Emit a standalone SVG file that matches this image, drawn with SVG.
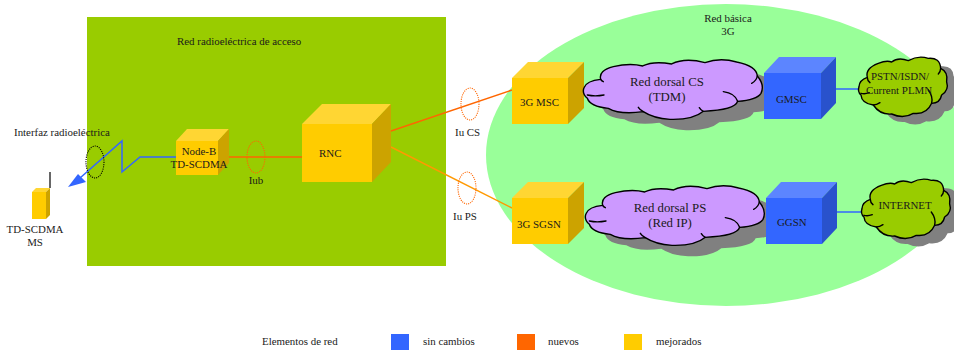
<svg xmlns="http://www.w3.org/2000/svg" xmlns:xlink="http://www.w3.org/1999/xlink" width="954" height="350" viewBox="0 0 954 350">
<style>
text{font-family:"Liberation Serif","Times New Roman",serif;font-size:10.9px;fill:#1a1a1a}
.m{text-anchor:middle}
.big{font-size:12.8px}
.y .f{fill:#ffcc00}.y .t{fill:#ffd633}.y .s{fill:#cca300}
.b .f{fill:#3366ff}.b .t{fill:#5c85ff}.b .s{fill:#2952cc}
.shadow{fill:#808080}
.cl{stroke:#000;stroke-width:4.2;stroke-linejoin:round}
.inner{fill:none;stroke:#000;stroke-width:4.2;stroke-linecap:round}
.purple{fill:#cc99ff}.olive{fill:#99cc00}
.wire{fill:none;stroke-width:1.5}
.dot{fill:none;stroke-width:1.1;stroke-dasharray:1.1 1.1}
</style>
<defs>
<path id="bigc" d="M42 143 Q50 122 92 118 Q85 92 130 80 Q180 68 218 78 Q250 62 305 72 Q345 52 405 68 Q450 52 500 66 Q560 78 562 108 Q585 135 573 160 Q560 180 503 184 Q495 210 400 214 Q370 240 300 238 Q250 235 220 215 Q150 225 115 205 Q60 200 52 175 Q35 160 42 143Z"/>
<path id="bigi" d="M92 118 Q94 122 100 125 M52 165 Q75 170 102 165 M460 155 Q495 160 503 184 M562 108 Q560 122 545 130 M220 215 Q210 210 205 202 M400 214 Q392 210 388 203"/>
<path id="smc" d="M867 140 Q868 120 892 112 Q885 85 925 70 Q950 60 965 66 Q985 50 1015 62 Q1045 45 1075 55 Q1110 52 1112 85 Q1135 95 1130 125 Q1138 150 1115 165 Q1110 190 1085 190 Q1070 225 1030 220 Q1000 238 965 222 Q930 225 910 195 Q875 190 873 165 Q862 155 867 140Z"/>
<path id="smi" d="M892 112 Q892 122 900 128 M873 160 Q885 163 898 158 M1112 85 Q1112 95 1105 102 M1085 190 Q1090 170 1075 150 M910 195 Q920 195 930 188"/>
</defs>
<rect id="red-acceso" x="87" y="17" width="359" height="249" fill="#99cc00"/>
<ellipse id="red-basica" cx="726" cy="155" rx="240" ry="151" fill="#99ff99"/>
<g id="connectors">
<path class="wire" stroke="#ff6600" d="M229 157H302"/>
<path class="wire" stroke="#ff6600" d="M391 131L512 90"/>
<path class="wire" stroke="#ff9900" d="M391 147L512 208"/>
<path class="wire" stroke="#3366ff" d="M836 89H862"/>
<path class="wire" stroke="#3366ff" d="M837 212H864"/>
<path class="wire" stroke="#3366ff" d="M176 157H140L122 172V141L80 178"/>
<path fill="#3366ff" d="M68 187L78 174L86 182Z"/>
<ellipse class="dot" cx="95" cy="162" rx="9" ry="16" stroke="#000"/>
<ellipse class="dot" cx="256" cy="157" rx="9" ry="16" stroke="#ff6600"/>
<ellipse class="dot" cx="470" cy="104" rx="9" ry="16" stroke="#ff6600"/>
<ellipse class="dot" cx="467" cy="188" rx="9" ry="16" stroke="#ff6600"/>
</g>
<g id="label-red-acceso"><text x="177" y="45">Red radioeléctrica de acceso</text></g>
<g id="label-red-basica"><text class="m" x="728" y="22">Red básica</text><text class="m" x="728" y="35">3G</text></g>
<g id="label-interfaz"><text x="14" y="136">Interfaz radioeléctrica</text></g>
<g id="label-iub"><text class="m" x="256" y="184">Iub</text></g>
<g id="label-iucs"><text x="455" y="136">Iu CS</text></g>
<g id="label-iups"><text x="453" y="220">Iu PS</text></g>
<g id="ms" class="y">
<path d="M50 172V188" stroke="#000" stroke-width="1.2"/>
<path class="t" d="M32 192L36 188H50L46 192Z"/><path class="s" d="M46 192L50 188V215L46 219Z"/><rect class="f" x="32" y="192" width="14" height="27"/>
<text class="m" x="35" y="233">TD-SCDMA</text><text class="m" x="35" y="246">MS</text>
</g>
<g id="node-b" class="y">
<path class="t" d="M176 141L187 129H229L218 141Z"/><path class="s" d="M218 141L229 129V163L218 175Z"/><rect class="f" x="176" y="141" width="42" height="34"/>
<text class="m" x="199" y="155">Node-B</text><text class="m" x="199" y="168">TD-SCDMA</text>
</g>
<g id="rnc" class="y">
<path class="t" d="M302 124L322 104H391L372 124Z"/><path class="s" d="M372 124L391 104V162L372 182Z"/><rect class="f" x="302" y="124" width="70" height="58"/>
<text x="319" y="157">RNC</text>
</g>
<g id="msc" class="y">
<path class="t" d="M512 78L528 62H584L568 78Z"/><path class="s" d="M568 78L584 62V108L568 124Z"/><rect class="f" x="512" y="78" width="56" height="46"/>
<text x="520" y="106">3G MSC</text>
</g>
<g id="sgsn" class="y">
<path class="t" d="M512 198L528 182H584L568 198Z"/><path class="s" d="M568 198L584 182V228L568 244Z"/><rect class="f" x="512" y="198" width="56" height="46"/>
<text x="517" y="228">3G SGSN</text>
</g>
<g id="cloud-cs">
<use href="#bigc" class="shadow" transform="translate(586,51) scale(.3333)"/>
<g transform="translate(570,40) scale(.3333)"><use href="#bigc" class="purple cl"/><use href="#bigi" class="inner"/></g>
<text class="m big" x="667" y="86">Red dorsal CS</text><text class="m big" x="667" y="101">(TDM)</text>
</g>
<g id="cloud-ps">
<use href="#bigc" class="shadow" transform="translate(588,177) scale(.3333)"/>
<g transform="translate(572,166) scale(.3333)"><use href="#bigc" class="purple cl"/><use href="#bigi" class="inner"/></g>
<text class="m big" x="670" y="212">Red dorsal PS</text><text class="m big" x="670" y="227">(Red IP)</text>
</g>
<g id="gmsc" class="b">
<path class="t" d="M764 73L779 57H836L821 73Z"/><path class="s" d="M821 73L836 57V103L821 119Z"/><rect class="f" x="764" y="73" width="57" height="46"/>
<text x="776" y="103">GMSC</text>
</g>
<g id="ggsn" class="b">
<path class="t" d="M766 198L781 182H837L822 198Z"/><path class="s" d="M822 198L837 182V228L822 244Z"/><rect class="f" x="766" y="198" width="56" height="46"/>
<text x="777" y="226">GGSN</text>
</g>
<g id="cloud-pstn">
<use href="#smc" class="shadow" transform="translate(583,48) scale(.3333)"/>
<g transform="translate(570,40) scale(.3333)"><use href="#smc" class="olive cl"/><use href="#smi" class="inner"/></g>
<text class="m" x="900" y="80">PSTN/ISDN/</text><text class="m" x="899" y="94">Current PLMN</text>
</g>
<g id="cloud-internet">
<use href="#smc" class="shadow" transform="translate(586,170) scale(.3333)"/>
<g transform="translate(573,162) scale(.3333)"><use href="#smc" class="olive cl"/><use href="#smi" class="inner"/></g>
<text class="m" x="905" y="209">INTERNET</text>
</g>
<g id="legend">
<text x="262" y="345">Elementos de red</text>
<rect x="391" y="334" width="18" height="16" fill="#3366ff"/><text x="423" y="345">sin cambios</text>
<rect x="517" y="334" width="18" height="16" fill="#ff6600"/><text x="548" y="345">nuevos</text>
<rect x="624" y="334" width="18" height="16" fill="#ffcc00"/><text x="656" y="345">mejorados</text>
</g>
</svg>
